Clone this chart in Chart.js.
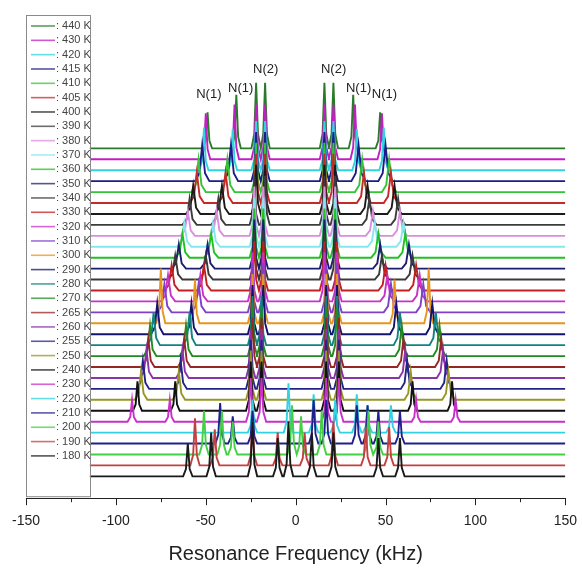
<!DOCTYPE html>
<html>
<head>
<meta charset="utf-8">
<script src="https://cdn.jsdelivr.net/npm/chart.js@4.4.0/dist/chart.umd.min.js"></script>
<style>
  html, body { margin: 0; padding: 0; background: #fff; }
  #wrap { width: 582px; height: 572px; }
</style>
</head>
<body>
<div id="wrap"><canvas id="chart" width="582" height="572"></canvas></div>
<script>
// temperatures, top trace first
var temps = [440,430,420,415,410,405,400,390,380,370,360,350,340,330,320,310,300,290,280,270,265,260,255,250,240,230,220,210,200,190,180];

// N(1) peak positions (kHz) for 440 K .. 230 K : outer-left, inner-left, inner-right, outer-right
var n1Pos = [
  [-49,-33,32,47],[-50,-34,33,48],[-51,-35,34,49],[-52,-36,35,50],[-54,-38,37,52],
  [-55,-39,38,53],[-57,-41,40,55],[-59,-43,41,57],[-60,-44,43,58],[-62,-46,44,60],
  [-63,-47,46,61],[-65,-49,47,63],[-67,-50,48,65],[-69,-51,50,67],[-71,-53,51,69],
  [-73,-54,53,71],[-75,-56,55,74],[-77,-58,56,76],[-79,-59,58,78],[-81,-61,59,80],
  [-82,-62,60,81],[-83,-63,61,82],[-85,-64,62,84],[-86,-65,64,85],[-88,-67,65,87],
  [-91,-70,67,89]
];
// N(1) peak heights [outer, inner] in trace spacings
var n1Height = [
  [3.3,4.9],[4.2,5],[3.9,3.8],[3.3,3.3],[3,3],[2.8,2.8],[2.6,2.6],[2.4,2.4],[2.3,2.3],[2.2,2.2],
  [2.2,2.2],[2.2,2.2],[2.2,2.2],[2.3,2.3],[2.4,2.4],[2.6,2.6],[5,4],[2.8,2.8],[3,3],[2.8,2.8],
  [2.6,2.6],[2.6,2.6],[2.6,2.6],[2.6,2.6],[2.7,2.7],[2,2]
];
// N(1) peak half-widths (kHz)
var n1Width = [2.5,2.5,2.5,4,4,4,4,4,4,4,4,4,4,4,4,4,2.5,3.5,3.5,3.5,3.5,3.5,3.5,3.5,2.5,2.5];

// N(2) peak positions (kHz) for 440 K .. 230 K
var n2Pos = [
  [-22,-17,16,21],[-22,-17,16,21],[-22,-17,16,21],[-22,-17,16,21],[-22,-17,16,21],
  [-22,-17,16,21],[-22,-17,16,22],[-23,-17,16,22],[-23,-18,16,22],[-23,-18,16,22],
  [-23,-18,16,22],[-23,-18,16,22],[-23,-18,16,22],[-23,-18,16,23],[-24,-18,16,23],
  [-24,-18,17,23],[-24,-18,17,23],[-24,-18,17,23],[-24,-19,17,23],[-24,-19,17,23],
  [-24,-19,17,24],[-25,-19,17,24],[-25,-19,17,24],[-25,-19,17,24],[-25,-19,17,24],
  [-25,-19,17,24]
];
var n2Height = [6,5,4.5,4.5,4.5,4.5,4.5,4.5,4.5,4.5,4.5,4.5,4.5,4.5,4.5,4.5,4.5,4.5,4.5,4.5,4.5,4.5,4.5,4.5,4.5,4];

// low temperature phase, 220 K .. 180 K : [kHz, height]
var lowPeaks = [
  [[-24,3],[-4,4.5],[10,3.5],[22,3],[34,3.5],[40,2.5],[53,2.5]],
  [[-42,3.7],[-35,2.5],[-24,3],[10,4],[17,4],[34,3.5],[40,3.5],[46,3],[58,3]],
  [[-51,4],[-41,4],[-35,3],[-2,4.5],[3,3.5],[14.5,4],[40.5,4],[46,3]],
  [[-56,4.3],[-45,3.3],[-24,4],[-10,3],[5,3],[21,4],[39,3.5],[52,3.5]],
  [[-60,3],[-47,4],[-24,5],[-10,3.5],[-4,5],[9,4],[21,4],[46,3.5],[58,3.5]]
];

var labelText = ['N(1)','N(1)','N(2)','N(2)','N(1)','N(1)'];
var labelX = [-48.3,-30.6,-16.7,21.1,35,49.4];
var labelY = [34.9,35.5,37.2,37.2,35.5,34.9];

var majorTicks = [-150,-100,-50,0,50,100,150];
var minorTicks = [-125,-75,-25,25,75,125];

var colors = ['#2b7a2b','#c21fc2','#2fd4e0','#1c1c86','#35c435','#c42a2a','#1a1a1a','#3c3c3c',
  '#d88fe0','#86e6f0','#22c022','#1c1c70','#3a3a3a','#c22020','#c832c8','#8040c8','#e8951e',
  '#14146e','#148282','#228a22','#962626','#8a34a8','#242488','#969622','#111111','#c830c8',
  '#32d2e2','#20208a','#44d044','#c44040','#1a1a1a'];

var traceStart = -114.5, traceEnd = 150;
var profile = [[-1,0],[-0.4,0.22],[0,1],[0.4,0.22],[1,0]]; // peak line shape, x in half-widths
var defaultWidth = 2.6;

function peaksFor(i){
  var list = [];
  if (i < n1Pos.length){
    n1Pos[i].forEach(function(p, k){
      var h = (k === 0 || k === 3) ? n1Height[i][0] : n1Height[i][1];
      list.push([p, h, n1Width[i]]);
    });
    n2Pos[i].forEach(function(p){ list.push([p, n2Height[i], defaultWidth]); });
  } else {
    lowPeaks[i - n1Pos.length].forEach(function(pk){ list.push([pk[0], pk[1], defaultWidth]); });
  }
  return list.sort(function(a,b){ return a[0]-b[0]; });
}

var datasets = temps.map(function(t, i){
  var base = temps.length - 1 - i;
  var pts = [{x: traceStart, y: base}];
  peaksFor(i).forEach(function(pk){
    profile.forEach(function(s){ pts.push({x: pk[0] + s[0]*pk[2], y: base + pk[1]*s[1]}); });
  });
  pts.push({x: traceEnd, y: base});
  return {
    label: t + ' K', data: pts, borderColor: colors[i], borderWidth: 1.9,
    pointRadius: 0, tension: 0, fill: false, order: base
  };
});

var overlay = {
  id: 'overlay',
  afterDraw: function(chart){
    var ctx = chart.ctx, xs = chart.scales.x, ys = chart.scales.y, a = chart.chartArea;
    ctx.save();
    // legend box at the left of the plot
    var bx = xs.getPixelForValue(-150), bw = xs.getPixelForValue(traceStart) - bx;
    ctx.strokeStyle = '#8a8a8a'; ctx.lineWidth = 1;
    ctx.strokeRect(Math.round(bx)+0.5, a.top+0.5, Math.round(bw), a.bottom - a.top - 2);
    ctx.font = '11px Arial, "Liberation Sans", sans-serif';
    ctx.textBaseline = 'middle';
    temps.forEach(function(t, k){
      var y = a.top + 11 + k*14.33;
      ctx.strokeStyle = colors[k]; ctx.globalAlpha = 0.75; ctx.lineWidth = 1.6;
      ctx.beginPath(); ctx.moveTo(bx+5, y); ctx.lineTo(bx+29, y); ctx.stroke();
      ctx.globalAlpha = 1; ctx.fillStyle = '#444';
      ctx.fillText(': ' + t + ' K', bx+30, y);
    });
    // peak labels
    ctx.fillStyle = '#222'; ctx.font = '13px Arial, "Liberation Sans", sans-serif';
    ctx.textAlign = 'center';
    labelText.forEach(function(s, k){
      ctx.fillText(s, xs.getPixelForValue(labelX[k]), ys.getPixelForValue(labelY[k]));
    });
    // major and minor ticks
    ctx.strokeStyle = '#222'; ctx.lineWidth = 1;
    function tick(v, len){
      var px = Math.round(xs.getPixelForValue(v)) + 0.5;
      ctx.beginPath(); ctx.moveTo(px, a.bottom); ctx.lineTo(px, a.bottom + len); ctx.stroke();
    }
    majorTicks.forEach(function(v){ tick(v, 7); });
    minorTicks.forEach(function(v){ tick(v, 4); });
    ctx.restore();
  }
};

new Chart(document.getElementById('chart'), {
  type: 'line',
  data: { datasets: datasets },
  options: {
    responsive: false,
    animation: false,
    events: [],
    layout: { padding: { left: 26, right: 16, top: 15, bottom: 6 } },
    plugins: { legend: { display: false }, tooltip: { enabled: false } },
    scales: {
      x: {
        type: 'linear', min: -150, max: 150,
        grid: { drawOnChartArea: false, tickLength: 10, tickColor: 'rgba(0,0,0,0)' },
        border: { color: '#222', width: 1 },
        ticks: { stepSize: 50, padding: 5, color: '#222', maxRotation: 0,
                 font: { size: 14, family: 'Arial, "Liberation Sans", sans-serif' } },
        title: { display: true, text: 'Resonance Frequency (kHz)', color: '#222',
                 padding: { top: 7, bottom: 0 },
                 font: { size: 20, family: 'Arial, "Liberation Sans", sans-serif' } }
      },
      y: { type: 'linear', display: false, min: -2, max: 42.2 }
    }
  },
  plugins: [overlay]
});
</script>
</body>
</html>
